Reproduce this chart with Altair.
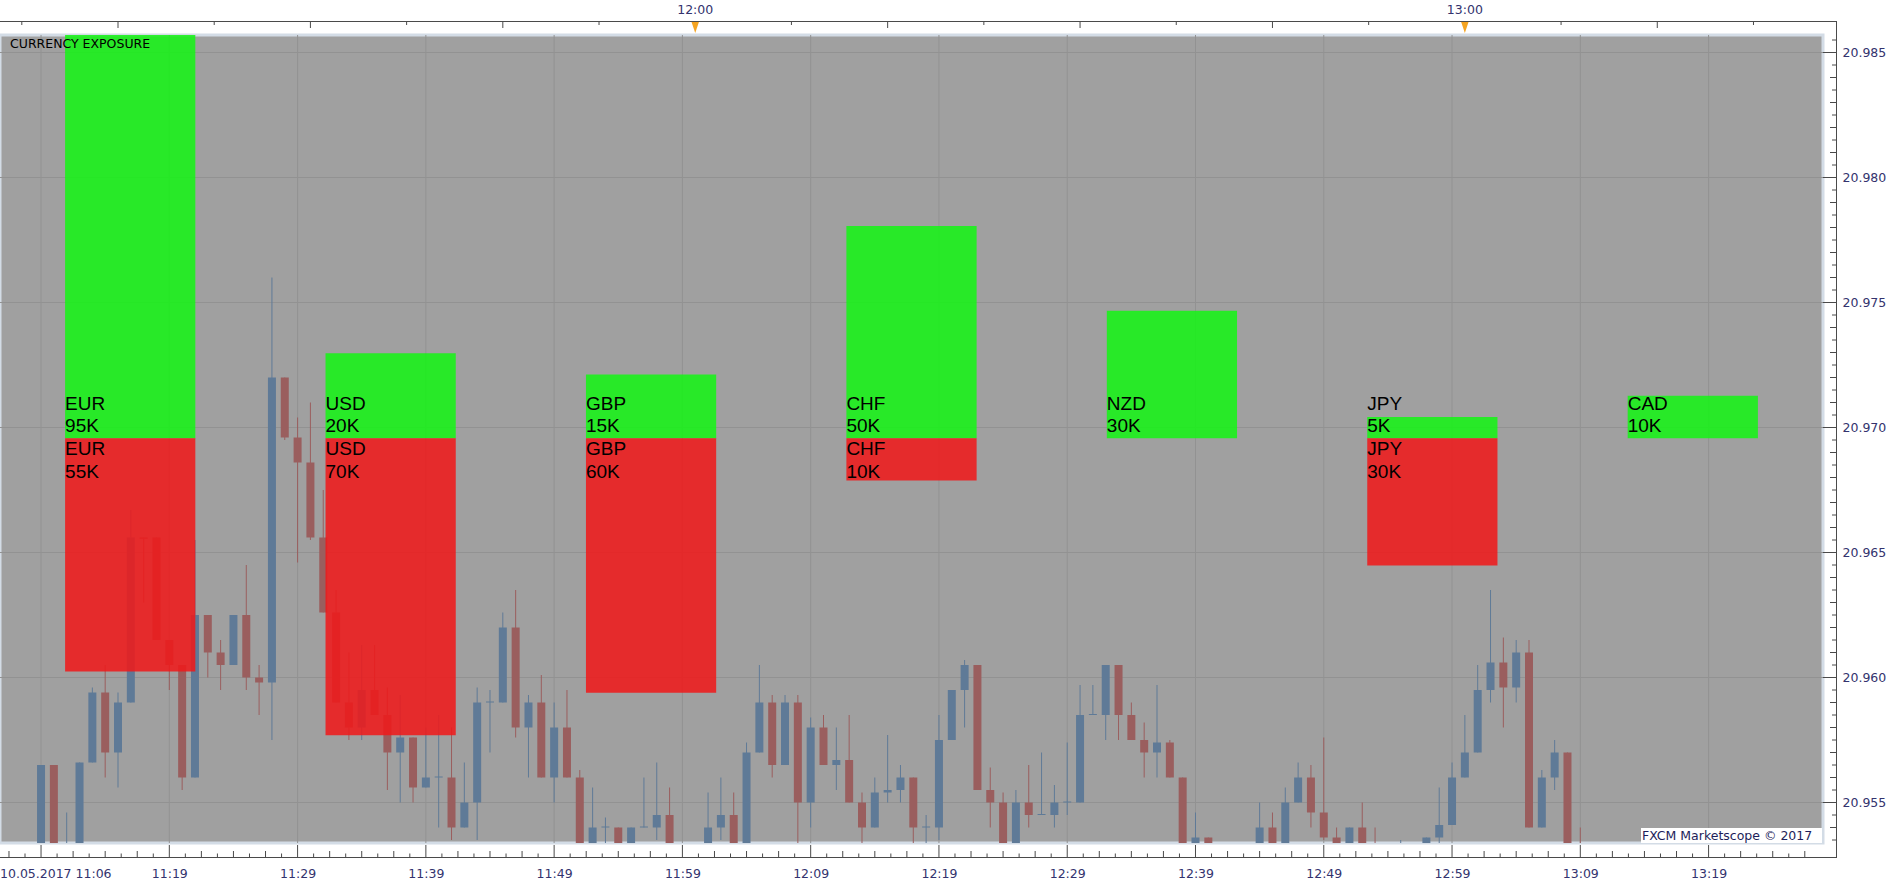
import altair as alt
import numpy as np
import pandas as pd

# ---------------- data ----------------
# candle time = minutes after 11:00 (10.05.2017)
minutes = list(range(9, 130))
opens = [
    20.9525, 20.9565, 20.9525, 20.9525, 20.9566, 20.9594, 20.9570, 20.9590, 20.9656, 20.9656,
    20.9615, 20.9605, 20.9560, 20.9625, 20.9610, 20.9605, 20.9625, 20.9600, 20.9598, 20.9720,
    20.9696, 20.9686, 20.9656, 20.9626, 20.9590, 20.9580, 20.9595, 20.9585, 20.9570, 20.9576,
    20.9556, 20.9560, 20.9560, 20.9540, 20.9550, 20.9590, 20.9590, 20.9620, 20.9580, 20.9590,
    20.9560, 20.9580, 20.9560, 20.9525, 20.9540, 20.9540, 20.9525, 20.9540, 20.9540, 20.9545,
    20.9528, 20.9522, 20.9525, 20.9540, 20.9545, 20.9525, 20.9570, 20.9590, 20.9565, 20.9590,
    20.9550, 20.9580, 20.9565, 20.9567, 20.9550, 20.9540, 20.9554, 20.9555, 20.9560, 20.9540,
    20.9540, 20.9575, 20.9595, 20.9605, 20.9555, 20.9550, 20.9525, 20.9550, 20.9545, 20.9545,
    20.9550, 20.9550, 20.9585, 20.9585, 20.9605, 20.9585, 20.9575, 20.9570, 20.9574, 20.9560,
    20.9525, 20.9536, 20.9526, 20.9522, 20.9528, 20.9525, 20.9540, 20.9525, 20.9550, 20.9560,
    20.9546, 20.9536, 20.9525, 20.9540, 20.9530, 20.9524, 20.9525, 20.9527, 20.9525, 20.9536,
    20.9541, 20.9560, 20.9570, 20.9595, 20.9606, 20.9596, 20.9610, 20.9540, 20.9560, 20.9570,
    20.9530,
]
highs = [
    20.9565, 20.9565, 20.9546, 20.9566, 20.9596, 20.9605, 20.9594, 20.9667, 20.9656, 20.9656,
    20.9615, 20.9605, 20.9655, 20.9625, 20.9615, 20.9625, 20.9645, 20.9605, 20.9760, 20.9720,
    20.9704, 20.9710, 20.9675, 20.9635, 20.9610, 20.9613, 20.9613, 20.9596, 20.9593, 20.9576,
    20.9580, 20.9585, 20.9580, 20.9566, 20.9596, 20.9595, 20.9626, 20.9635, 20.9593, 20.9601,
    20.9590, 20.9595, 20.9563, 20.9556, 20.9544, 20.9540, 20.9540, 20.9560, 20.9566, 20.9556,
    20.9530, 20.9530, 20.9554, 20.9560, 20.9554, 20.9574, 20.9605, 20.9593, 20.9593, 20.9593,
    20.9584, 20.9585, 20.9580, 20.9585, 20.9554, 20.9560, 20.9577, 20.9565, 20.9560, 20.9545,
    20.9585, 20.9595, 20.9607, 20.9605, 20.9564, 20.9554, 20.9555, 20.9565, 20.9570, 20.9557,
    20.9574, 20.9597, 20.9597, 20.9605, 20.9605, 20.9590, 20.9582, 20.9597, 20.9575, 20.9560,
    20.9546, 20.9536, 20.9530, 20.9531, 20.9532, 20.9550, 20.9546, 20.9556, 20.9566, 20.9565,
    20.9576, 20.9540, 20.9540, 20.9550, 20.9540, 20.9530, 20.9535, 20.9531, 20.9536, 20.9556,
    20.9566, 20.9585, 20.9605, 20.9635, 20.9616, 20.9615, 20.9615, 20.9563, 20.9575, 20.9570,
    20.9540,
]
lows = [
    20.9520, 20.9520, 20.9520, 20.9520, 20.9566, 20.9560, 20.9556, 20.9590, 20.9630, 20.9615,
    20.9595, 20.9555, 20.9560, 20.9600, 20.9595, 20.9605, 20.9595, 20.9585, 20.9575, 20.9695,
    20.9646, 20.9655, 20.9626, 20.9590, 20.9575, 20.9575, 20.9585, 20.9555, 20.9550, 20.9550,
    20.9556, 20.9540, 20.9535, 20.9540, 20.9535, 20.9570, 20.9590, 20.9576, 20.9560, 20.9560,
    20.9550, 20.9560, 20.9520, 20.9520, 20.9530, 20.9520, 20.9520, 20.9540, 20.9535, 20.9520,
    20.9520, 20.9520, 20.9520, 20.9535, 20.9520, 20.9520, 20.9570, 20.9560, 20.9565, 20.9520,
    20.9540, 20.9565, 20.9555, 20.9550, 20.9520, 20.9540, 20.9550, 20.9550, 20.9520, 20.9520,
    20.9535, 20.9575, 20.9580, 20.9555, 20.9540, 20.9520, 20.9520, 20.9540, 20.9545, 20.9540,
    20.9545, 20.9550, 20.9585, 20.9575, 20.9575, 20.9575, 20.9560, 20.9560, 20.9560, 20.9520,
    20.9520, 20.9520, 20.9520, 20.9520, 20.9520, 20.9520, 20.9520, 20.9520, 20.9550, 20.9540,
    20.9535, 20.9520, 20.9520, 20.9520, 20.9520, 20.9520, 20.9520, 20.9520, 20.9520, 20.9520,
    20.9541, 20.9560, 20.9570, 20.9590, 20.9580, 20.9590, 20.9540, 20.9540, 20.9555, 20.9520,
    20.9520,
]
closes = [
    20.9565, 20.9525, 20.9530, 20.9566, 20.9594, 20.9570, 20.9590, 20.9656, 20.96555, 20.9615,
    20.9605, 20.9560, 20.9625, 20.9610, 20.9605, 20.9625, 20.9600, 20.9598, 20.9720, 20.9696,
    20.9686, 20.9656, 20.9626, 20.9590, 20.9580, 20.9595, 20.9585, 20.9570, 20.9576, 20.9556,
    20.9560, 20.9560, 20.9540, 20.9550, 20.9590, 20.9590, 20.9620, 20.9580, 20.9590, 20.9560,
    20.9580, 20.9560, 20.9525, 20.9540, 20.9540, 20.9525, 20.9540, 20.9540, 20.9545, 20.9525,
    20.9522, 20.9528, 20.9540, 20.9545, 20.9525, 20.9570, 20.9590, 20.9565, 20.9590, 20.9550,
    20.9580, 20.9565, 20.9567, 20.9550, 20.9540, 20.9554, 20.9555, 20.9560, 20.9540, 20.9540,
    20.9575, 20.9595, 20.9605, 20.9555, 20.9550, 20.9525, 20.9550, 20.9545, 20.9545, 20.9550,
    20.9550, 20.9585, 20.9585, 20.9605, 20.9585, 20.9575, 20.9570, 20.9574, 20.9560, 20.9525,
    20.9536, 20.9525, 20.9522, 20.9528, 20.9524, 20.9540, 20.9525, 20.9550, 20.9560, 20.9546,
    20.9536, 20.9525, 20.9540, 20.9525, 20.9525, 20.9527, 20.9530, 20.9523, 20.9536, 20.9541,
    20.9560, 20.9570, 20.9595, 20.9606, 20.9596, 20.9610, 20.9540, 20.9560, 20.9570, 20.9525,
    20.9525,
]

currencies = ["EUR", "USD", "GBP", "CHF", "NZD", "JPY", "CAD"]
long_k = [95, 20, 15, 50, 30, 5, 10]
short_k = [55, 70, 60, 10, 0, 30, 0]

grid_minutes = [9, 19, 29, 39, 49, 59, 69, 79, 89, 99, 109, 119, 129, 139]
label_minutes = [19, 29, 39, 49, 59, 69, 79, 89, 99, 109, 119, 129, 139]
price_ticks = [20.955, 20.960, 20.965, 20.970, 20.975, 20.980, 20.985]
top_hours = [60, 120]
top_hour_labels = ["12:00", "13:00"]

# ---------------- layout / style ----------------
W, H = 1823, 808
XDOM = [6.19, 147.53]
YDOM = [20.95338, 20.9857]
EDOM = [-95.4, 95]

BG = "#A0A0A0"
GRID = "#929292"
UP = "#5F7A97"
DOWN = "#9A5E5E"
GREEN = "#17F217"
RED = "#EE1A1B"
TXT = "#33336E"
FRAME = "#4A4A4A"
FONT = "DejaVu Sans"

xscale = alt.Scale(domain=XDOM, nice=False, zero=False)
yscale = alt.Scale(domain=YDOM, nice=False, zero=False)

label_expr = ("(11 + floor(datum.value / 60)) + ':' + "
              "(datum.value % 60 < 10 ? '0' : '') + (datum.value % 60)")
xaxis = alt.Axis(values=label_minutes, labelExpr=label_expr, orient="bottom", offset=14,
                 ticks=False, tickSize=0, domain=False, grid=False, labelPadding=10,
                 labelFont=FONT, labelFontSize=12.5, labelColor=TXT, title=None,
                 labelFlush=False)
yaxis = alt.Axis(values=price_ticks, format=".3f", orient="right", offset=14,
                 ticks=False, tickSize=0, domain=False, grid=False, labelPadding=5,
                 labelFont=FONT, labelFontSize=12.5, labelColor=TXT, title=None)


def X(f):
    return alt.X(f"{f}:Q", scale=xscale, axis=xaxis)


def Y(f):
    return alt.Y(f"{f}:Q", scale=yscale, axis=yaxis)


df = pd.DataFrame({"m": minutes, "o": opens, "h": highs, "l": lows, "c": closes})
df["body_end"] = np.where(df["o"] == df["c"], df["o"] + 0.00004, df["c"])
candle_color = alt.condition("datum.c >= datum.o", alt.value(UP), alt.value(DOWN))

grid_v = alt.Chart(pd.DataFrame({"gx": grid_minutes})).mark_rule(
    color=GRID, strokeWidth=1).encode(x=X("gx"))
grid_h = alt.Chart(pd.DataFrame({"gy": price_ticks})).mark_rule(
    color=GRID, strokeWidth=1).encode(y=Y("gy"))

wicks = alt.Chart(df).mark_rule(strokeWidth=1, clip=True).encode(
    x=X("m"), y=Y("l"), y2="h", color=candle_color)
bodies = alt.Chart(df).mark_bar(size=8, clip=True).encode(
    x=X("m"), y=Y("o"), y2="body_end", color=candle_color)

# axis decorations
rt = pd.DataFrame({"p": [round(20.9535 + 0.0005 * k, 4) for k in range(65)]})
rt["kind"] = ["major" if abs(p * 200 - round(p * 200)) < 1e-6 else
              ("mid" if abs(p * 1000 - round(p * 1000)) < 1e-6 else "minor") for p in rt["p"]]
rtick_major = alt.Chart(rt[rt.kind == "major"]).mark_rule(color=FRAME).encode(
    y=Y("p"), x=alt.value(W), x2=alt.value(1837))
rtick_mid = alt.Chart(rt[rt.kind == "mid"]).mark_rule(color=FRAME).encode(
    y=Y("p"), x=alt.value(1830), x2=alt.value(1837))
rtick_minor = alt.Chart(rt[rt.kind == "minor"]).mark_rule(color=FRAME).encode(
    y=Y("p"), x=alt.value(1832), x2=alt.value(1837))

bt_rows = []
for k in range(-2, 111):
    t = 9 + 1.25 * k
    if XDOM[0] <= t <= XDOM[1]:
        bt_rows.append({"t": t, "kind": "major" if k % 8 == 0 else ("mid" if k % 2 == 0 else "minor")})
bt = pd.DataFrame(bt_rows)
btick_major = alt.Chart(bt[bt.kind == "major"]).mark_rule(color=FRAME).encode(
    x=X("t"), y=alt.value(H + 2), y2=alt.value(H + 14))
btick_mid = alt.Chart(bt[bt.kind == "mid"]).mark_rule(color=FRAME).encode(
    x=X("t"), y=alt.value(H + 8), y2=alt.value(H + 14))
btick_minor = alt.Chart(bt[bt.kind == "minor"]).mark_rule(color=FRAME).encode(
    x=X("t"), y=alt.value(H + 10.5), y2=alt.value(H + 14))

tt = pd.DataFrame({"t": [7.5 * k for k in range(1, 20) if 7.5 * k not in top_hours]})
tt["long"] = [abs(t / 15 - round(t / 15)) < 1e-9 for t in tt["t"]]
ttick_long = alt.Chart(tt[tt["long"]]).mark_rule(color=FRAME).encode(
    x=X("t"), y=alt.value(-14), y2=alt.value(-7))
ttick_short = alt.Chart(tt[~tt["long"]]).mark_rule(color=FRAME).encode(
    x=X("t"), y=alt.value(-14), y2=alt.value(-10))

hours_df = pd.DataFrame({"hm": top_hours, "lab": top_hour_labels})
hour_tri = alt.Chart(hours_df).mark_point(
    shape="M -0.67 -1 L 0.67 -1 L 0 1 Z", filled=True, size=144, opacity=1,
    color="#F5A421").encode(x=X("hm"), y=alt.value(-8))
hour_lab = alt.Chart(hours_df).mark_text(
    font=FONT, fontSize=12.5, color=TXT, baseline="middle").encode(
    x=X("hm"), y=alt.value(-25), text="lab:N")

one = pd.DataFrame({"k": [0]})
frame_top = alt.Chart(one).mark_rule(color=FRAME, strokeWidth=1).encode(
    x=alt.value(0), x2=alt.value(1837), y=alt.value(-13.5))
frame_bot = alt.Chart(one).mark_rule(color=FRAME, strokeWidth=1).encode(
    x=alt.value(0), x2=alt.value(1837), y=alt.value(H + 14.5))
frame_right = alt.Chart(one).mark_rule(color=FRAME, strokeWidth=1).encode(
    x=alt.value(1836.5), y=alt.value(-14), y2=alt.value(H + 15))
date_lab = alt.Chart(one).mark_text(
    font=FONT, fontSize=12.5, color=TXT, align="left", baseline="middle",
    text="10.05.2017 11:06").encode(x=alt.value(0), y=alt.value(H + 31))
copy_box = alt.Chart(one).mark_rect(color="white", opacity=1).encode(
    x=alt.value(1641), x2=alt.value(1822), y=alt.value(H - 15), y2=alt.value(H))
copy_txt = alt.Chart(one).mark_text(
    font=FONT, fontSize=12.5, color="#1E1E5A", align="left", baseline="middle",
    text="FXCM Marketscope \u00a9 2017").encode(x=alt.value(1642), y=alt.value(H - 7))

price_group = alt.layer(
    grid_v, grid_h, wicks, bodies,
    rtick_major, rtick_mid, rtick_minor,
    btick_major, btick_mid, btick_minor,
    ttick_long, ttick_short, hour_tri, hour_lab,
    frame_top, frame_bot, frame_right, date_lab, copy_box, copy_txt,
)

# exposure overlay
edf = pd.DataFrame({"cur": currencies, "long": long_k, "short": short_k})
edf["neg"] = -edf["short"]
edf["ltxt"] = edf["long"].astype(str) + "K"
edf["stxt"] = edf["short"].astype(str) + "K"
sdf = edf[edf["short"] > 0]

escale_x = alt.Scale(domain=currencies, paddingInner=0.5, paddingOuter=0.25)
escale_y = alt.Scale(domain=EDOM, nice=False, zero=False)
ex_band = alt.X("cur:N", scale=escale_x, axis=None)
ex_start = alt.X("cur:N", scale=escale_x, axis=None, bandPosition=0)
ey0 = alt.Y(datum=0, scale=escale_y, axis=None)

green = alt.Chart(edf).mark_bar(color=GREEN, opacity=0.88).encode(
    x=ex_band, y=alt.Y("long:Q", scale=escale_y, axis=None), y2=alt.datum(0))
red = alt.Chart(sdf).mark_bar(color=RED, opacity=0.88).encode(
    x=ex_band, y=alt.Y("neg:Q", scale=escale_y, axis=None), y2=alt.datum(0))

txt_style = dict(align="left", baseline="middle", font="Liberation Sans",
                 fontSize=19, color="black")
g_name = alt.Chart(edf).mark_text(dy=-34, **txt_style).encode(x=ex_start, y=ey0, text="cur:N")
g_val = alt.Chart(edf).mark_text(dy=-12, **txt_style).encode(x=ex_start, y=ey0, text="ltxt:N")
r_name = alt.Chart(sdf).mark_text(dy=11, **txt_style).encode(x=ex_start, y=ey0, text="cur:N")
r_val = alt.Chart(sdf).mark_text(dy=34, **txt_style).encode(x=ex_start, y=ey0, text="stxt:N")

expo_group = alt.layer(green, red, g_name, g_val, r_name, r_val)

title_txt = alt.Chart(one).mark_text(
    font=FONT, fontSize=12.5, color="black", align="left", baseline="middle",
    text="CURRENCY EXPOSURE").encode(x=alt.value(10), y=alt.value(9))

chart = alt.layer(price_group, expo_group, title_txt).resolve_scale(
    x="independent", y="independent"
).properties(
    width=W, height=H,
    padding={"left": 0, "top": 35, "right": 80, "bottom": 44},
    autosize="none",
    background="white",
).configure_view(
    fill=BG, stroke="#D3DCE6", strokeWidth=3
)

chart.save("out.html", embed_options={"renderer": "svg", "actions": False})
